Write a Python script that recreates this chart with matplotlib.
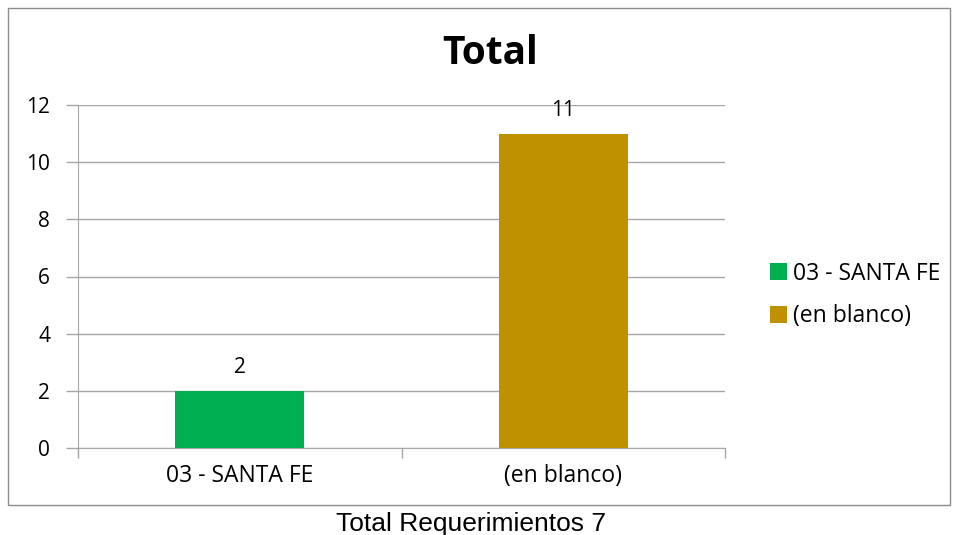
import matplotlib
matplotlib.use("Agg")
import matplotlib.pyplot as plt
from matplotlib.patches import Rectangle, Patch

categories = ["03 - SANTA FE", "(en blanco)"]
values = [2, 11]
colors = ["#00B050", "#BF9000"]
yticks = [0, 2, 4, 6, 8, 10, 12]
title = "Total"
caption = "Total Requerimientos 7"

chart_font = ["Open Sans", "DejaVu Sans"]

fig = plt.figure(figsize=(9.56, 5.35), dpi=100)
fig.patches.append(Rectangle((8/956, 30/535), 942/956, 497/535, transform=fig.transFigure,
                             fill=False, edgecolor="#8c8c8c", linewidth=1.0))

ax = fig.add_axes([78/956, 87/535, 647/956, 343/535])
x = list(range(len(categories)))
bars = ax.bar(x, values, width=0.4, color=colors, zorder=3)
ax.set_xlim(-0.5, 1.5)
ax.set_ylim(0, 12)
ax.set_yticks(yticks)
ax.set_yticklabels([str(t) for t in yticks], fontsize=15, family=chart_font)
ax.yaxis.grid(True, color="#a6a6a6", linewidth=1.0, zorder=0)
ax.tick_params(axis="y", length=9, width=1, color="#a6a6a6", pad=11)
ax.set_xticks([-0.5, 0.5, 1.5])
ax.set_xticklabels([])
ax.tick_params(axis="x", length=7, width=1, color="#a6a6a6", direction="out")
for xi, c in zip(x, categories):
    ax.text(xi, -0.55, c, ha="center", va="top", fontsize=16.5, family=chart_font,
            transform=ax.transData)
for s in ["top", "right"]:
    ax.spines[s].set_visible(False)
for s in ["left", "bottom"]:
    ax.spines[s].set_color("#a6a6a6")
for xi, v in zip(x, values):
    ax.text(xi, v + 0.45, str(v), ha="center", va="bottom", fontsize=15, family=chart_font)

fig.text(490/956, 482/535, title, ha="center", va="center", fontsize=28,
         fontweight="bold", family=chart_font)

handles = [Patch(facecolor=c, edgecolor="none") for c in colors]
leg = fig.legend(handles, categories, loc="center left", bbox_to_anchor=(749/956, 240/535),
                 frameon=False, prop={"family": chart_font, "size": 16.5},
                 handlelength=0.75, handleheight=0.75, handletextpad=0.25, labelspacing=0.8)

fig.text(471/956, 11/535, caption, ha="center", va="center", fontsize=19,
         family=["Liberation Sans Narrow", "Liberation Sans", "DejaVu Sans"])

fig.savefig("out.png", dpi=100)
